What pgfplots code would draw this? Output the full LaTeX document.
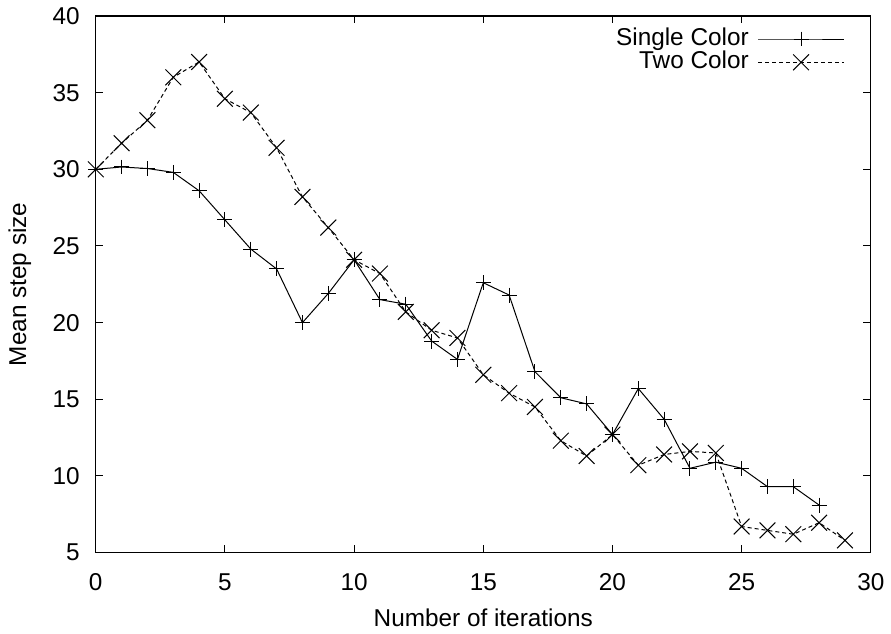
\documentclass[border=0pt]{standalone}
\usepackage{fontspec}
\setmainfont{Liberation Sans}
\usepackage{pgfplots}
\pgfplotsset{compat=1.18}

\begin{document}
\begin{tikzpicture}
\begin{axis}[
  name=ax,
  scale only axis, width=388.5pt, height=269pt,
  xmin=0, xmax=30, ymin=5, ymax=40,
  xtick={0,5,...,30}, ytick={5,10,...,40},
  minor tick num=0,
  tick align=inside, major tick length=3.7pt,
  tick style={black, line width=0.5pt},
  axis line style={line width=0.6pt},
  font=\fontsize{12.2}{14}\selectfont,
  /pgf/number format/assume math mode=true,
  xticklabel style={yshift=-7pt},
  yticklabel style={xshift=-4.5pt},
  xlabel={Number of iterations}, ylabel={Mean step size},
  xlabel style={at={(axis description cs:0.5,0)}, anchor=center, yshift=-32.5pt},
  ylabel style={at={(axis description cs:0,0.5)}, anchor=center, yshift=38pt},
  clip=false,
  legend plot pos=right,
  legend cell align=right,
  legend image code/.code={\draw[mark repeat=2,mark phase=2,#1] plot coordinates {(0pt,0pt) (21.5pt,0pt) (43pt,0pt)};},
  legend style={draw=none, fill=none, inner sep=0pt, at={(rel axis cs:1,1)}, anchor=north east,
    xshift=-13pt, yshift=-5.5pt, row sep=0pt, column sep=4.5pt,
    nodes={inner sep=0pt, text height=9pt, text depth=2.7pt}},
]
\addplot[black, line width=0.5pt, mark=+, mark size=3.75pt, mark options={solid, line width=0.5pt}] coordinates {
(0,30.0)(1,30.15)(2,30.05)(3,29.8)(4,28.6)(5,26.7)(6,24.8)(7,23.5)(8,20.0)(9,21.9)
(10,24.1)(11,21.5)(12,21.2)(13,18.8)(14,17.6)(15,22.6)(16,21.8)(17,16.8)(18,15.1)(19,14.7)
(20,12.7)(21,15.7)(22,13.7)(23,10.5)(24,10.9)(25,10.5)(26,9.3)(27,9.3)(28,8.1)};
\addplot[black, line width=0.5pt, dash pattern=on 2pt off 1.5pt, mark=x, mark size=5.6pt, mark options={solid, line width=0.5pt}] coordinates {
(0,30.0)(1,31.7)(2,33.2)(3,36.0)(4,37.0)(5,34.6)(6,33.7)(7,31.4)(8,28.2)(9,26.2)
(10,24.1)(11,23.2)(12,20.7)(13,19.5)(14,19.0)(15,16.6)(16,15.4)(17,14.5)(18,12.3)(19,11.3)
(20,12.7)(21,10.7)(22,11.4)(23,11.6)(24,11.5)(25,6.7)(26,6.45)(27,6.2)(28,6.95)(29,5.8)};
\legend{Single Color, Two Color}
\end{axis}
\path[use as bounding box] ([xshift=-48pt,yshift=-38.5pt]ax.south west) rectangle ([xshift=9pt,yshift=8pt]ax.north east);
\end{tikzpicture}
\end{document}
